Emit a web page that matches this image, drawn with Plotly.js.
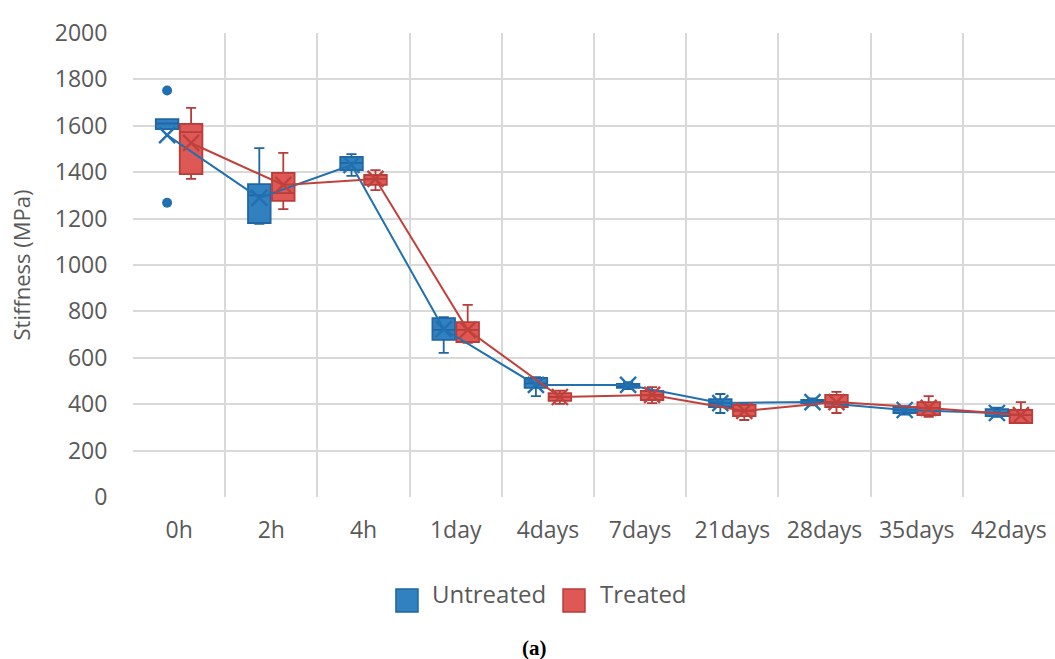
<!DOCTYPE html>
<html>
<head>
<meta charset="utf-8">
<script src="https://cdn.plot.ly/plotly-3.0.1.min.js"></script>
<style>
  html, body { margin: 0; padding: 0; background: #fff; }
  #chart { width: 1055px; height: 659px; }
</style>
</head>
<body>
<div id="chart"></div>
<script>
const categories = ["0h", "2h", "4h", "1day", "4days", "7days", "21days", "28days", "35days", "42days"];

const untreatedQ1     = [1586, 1181, 1409, 677, 470, 470, 388, 405, 362, 349];
const untreatedMedian = [1610, 1300, 1440, 720, 490, 478, 405, 410, 375, 362];
const untreatedQ3     = [1629, 1349, 1466, 771, 513, 487, 422, 418, 388, 379];
const untreatedLow    = [1586, 1177, 1384, 621, 435, 465, 362, 395, 355, 345];
const untreatedHigh   = [1629, 1504, 1478, 775, 517, 495, 444, 425, 392, 385];
const untreatedMean   = [1560, 1289, 1431, 724, 483, 483, 405, 409, 375, 362];
const untreatedOutlierCat = ["0h", "0h"];
const untreatedOutlierVal = [1752, 1268];

const treatedQ1     = [1392, 1276, 1345, 668, 414, 418, 349, 388, 353, 319];
const treatedMedian = [1573, 1310, 1371, 720, 431, 440, 371, 409, 384, 353];
const treatedQ3     = [1608, 1397, 1388, 754, 448, 457, 397, 440, 409, 375];
const treatedLow    = [1371, 1241, 1323, 664, 401, 405, 332, 362, 345, 319];
const treatedHigh   = [1677, 1483, 1409, 828, 458, 474, 405, 453, 435, 409];
const treatedMean   = [1526, 1345, 1371, 720, 431, 440, 371, 409, 384, 353];

const seriesNames = ["Untreated", "Treated"];

const idx = categories.map((c, i) => i);
const off = 0.13;
const catIndex = c => categories.indexOf(c);

const blueFill = "rgba(38,122,190,0.95)", blueLine = "#1f66a3", blueMean = "#2270b0";
const redFill = "rgba(220,80,76,0.95)", redLine = "#b83c39", redMean = "#c0403c";

const boxCommon = {
  type: "box",
  width: 0.245,
  whiskerwidth: 0.45,
  boxpoints: false,
  hoverinfo: "skip",
  showlegend: false
};

const traces = [
  Object.assign({}, boxCommon, {
    name: seriesNames[0],
    x: idx.map(i => i - off),
    q1: untreatedQ1, median: untreatedMedian, q3: untreatedQ3,
    lowerfence: untreatedLow, upperfence: untreatedHigh,
    fillcolor: blueFill,
    line: { color: blueLine, width: 1.8 }
  }),
  Object.assign({}, boxCommon, {
    name: seriesNames[1],
    x: idx.map(i => i + off),
    q1: treatedQ1, median: treatedMedian, q3: treatedQ3,
    lowerfence: treatedLow, upperfence: treatedHigh,
    fillcolor: redFill,
    line: { color: redLine, width: 1.8 }
  }),
  {
    type: "scatter", mode: "lines+markers", showlegend: false, hoverinfo: "skip",
    x: idx.map(i => i - off), y: untreatedMean,
    line: { color: blueMean, width: 2 },
    marker: { symbol: "x-thin-open", size: 16, line: { color: blueMean, width: 2.4 } }
  },
  {
    type: "scatter", mode: "lines+markers", showlegend: false, hoverinfo: "skip",
    x: idx.map(i => i + off), y: treatedMean,
    line: { color: redMean, width: 2 },
    marker: { symbol: "x-thin-open", size: 16, line: { color: redMean, width: 2.4 } }
  },
  {
    type: "scatter", mode: "markers", showlegend: false, hoverinfo: "skip",
    x: untreatedOutlierCat.map(c => catIndex(c) - off), y: untreatedOutlierVal,
    marker: { symbol: "circle", size: 10, color: "#2270b0" }
  }
];

const fam = "Open Sans, Noto Sans, sans-serif";
const tickFont = { family: fam, size: 23, color: "#595959" };
const legFont = { family: fam, size: 24, color: "#595959" };

// custom legend (paper coordinates)
const legSquares = [
  { x0: 0.2852, x1: 0.3091, fill: blueFill, line: blueLine },
  { x0: 0.4664, x1: 0.4902, fill: redFill, line: redLine }
];
const shapes = legSquares.map(s => ({
  type: "rect", xref: "paper", yref: "paper",
  x0: s.x0, x1: s.x1, y0: -0.2478, y1: -0.1983,
  fillcolor: s.fill, line: { color: s.line, width: 1.5 }
}));
const legTextX = [0.3221, 0.5043];

const layout = {
  width: 1055, height: 659,
  margin: { l: 133, r: 0, t: 33, b: 162 },
  paper_bgcolor: "#fff", plot_bgcolor: "#fff",
  showlegend: false,
  xaxis: {
    range: [-0.5, 9.5],
    tickmode: "array", tickvals: idx, ticktext: categories,
    showgrid: false, zeroline: false, showline: false,
    ticks: "outside", ticklen: 12, tickcolor: "rgba(0,0,0,0)",
    tickfont: tickFont,
    minor: { tick0: -0.5, dtick: 1, showgrid: true, gridcolor: "#d9d9d9", gridwidth: 2, ticks: "" }
  },
  yaxis: {
    range: [0, 2000], tickmode: "linear", tick0: 0, dtick: 200,
    showgrid: true, gridcolor: "#d9d9d9", gridwidth: 2,
    zeroline: false, showline: false,
    ticks: "outside", ticklen: 20, tickcolor: "rgba(0,0,0,0)",
    tickfont: tickFont,
    title: { text: "Stiffness (MPa)", standoff: 18, font: { family: fam, size: 22, color: "#595959" } }
  },
  shapes: shapes,
  annotations: seriesNames.map((n, i) => ({
    xref: "paper", yref: "paper", x: legTextX[i], y: -0.2069, xanchor: "left", yanchor: "middle",
    text: n, showarrow: false, font: legFont
  })).concat([{
    xref: "paper", yref: "paper", x: 0.436, y: -0.325, xanchor: "center", yanchor: "middle",
    text: "<b>(a)</b>", showarrow: false,
    font: { family: "Liberation Serif, serif", size: 21, color: "#000" }
  }])
};

Plotly.newPlot("chart", traces, layout, { displayModeBar: false, staticPlot: true });
</script>
</body>
</html>
